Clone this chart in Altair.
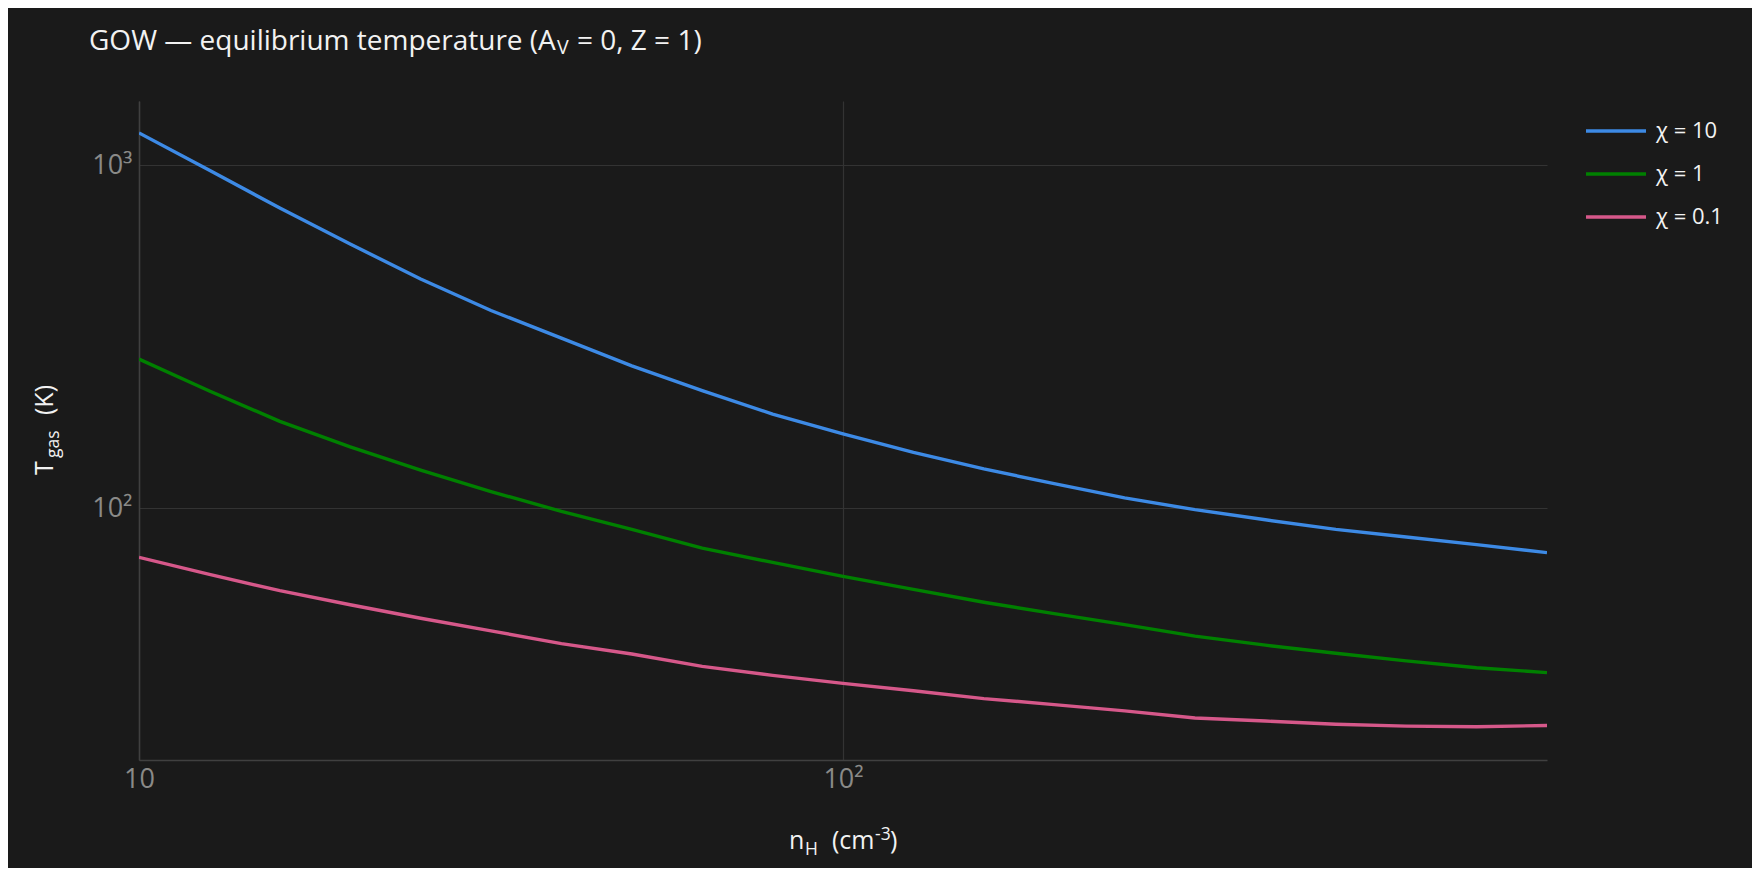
import altair as alt
import pandas as pd

# hydrogen density grid (cm^-3), 10 steps per decade
n_h = [10.0, 12.59, 15.85, 19.95, 25.12, 31.62, 39.81, 50.12, 63.10, 79.43,
       100.0, 125.9, 158.5, 199.5, 251.2, 316.2, 398.1, 501.2, 631.0, 794.3, 1000.0]

# equilibrium gas temperature (K)
t_chi10 = [1243, 967, 750, 589, 466, 377, 313, 260, 220, 188, 164.5,
           145.3, 130, 117.8, 107, 98.9, 92.4, 86.6, 82.3, 78.2, 74.1]
t_chi1 = [272, 219.5, 179, 150.7, 129, 111.7, 97.8, 86.6, 76.4, 69.4, 63.2,
          57.9, 53.1, 49.2, 45.7, 42.3, 39.8, 37.7, 35.8, 34.2, 33.1]
t_chi01 = [71.8, 64.0, 57.4, 52.2, 47.7, 43.8, 40.2, 37.5, 34.5, 32.5, 30.8,
           29.3, 27.8, 26.7, 25.6, 24.4, 23.9, 23.4, 23.1, 23.0, 23.2]

series_names = ["χ = 10", "χ = 1", "χ = 0.1"]
series_colors = ["#3d8ae5", "#008000", "#d6588a"]

BG = "#1a1a1a"
FG = "#f2f2f2"
FONT = "Open Sans"

frames = []
for name, temps in zip(series_names, [t_chi10, t_chi1, t_chi01]):
    frames.append(pd.DataFrame({"nH": n_h, "T": temps, "chi": name}))
df = pd.concat(frames, ignore_index=True)

lines = (
    alt.Chart(df)
    .mark_line(strokeWidth=3.4, clip=True)
    .encode(
        x=alt.X(
            "nH:Q",
            scale=alt.Scale(type="log", domain=[10, 1000], nice=False),
            axis=alt.Axis(
                values=[10, 100],
                labelExpr="datum.value == 10 ? '10' : '10²'",
                title=None,
                labelPadding=6,
                labelFlush=False,
            ),
        ),
        y=alt.Y(
            "T:Q",
            scale=alt.Scale(type="log", domain=[18.4, 1540], nice=False),
            axis=alt.Axis(
                values=[100, 1000],
                labelExpr="datum.value == 1000 ? '10³' : '10²'",
                title=None,
                labelPadding=7,
            ),
        ),
        color=alt.Color(
            "chi:N",
            scale=alt.Scale(domain=series_names, range=series_colors),
            sort=series_names,
            legend=alt.Legend(
                orient="none",
                legendX=1445,
                legendY=-2,
                title=None,
                symbolType="stroke",
                symbolSize=3600,
                symbolStrokeWidth=3.4,
                labelFontSize=22,
                labelColor=FG,
                labelFont=FONT,
                labelOffset=8,
                rowPadding=-9,
                padding=0,
            ),
        ),
        detail="chi:N",
    )
)


def label(txt, x, y, size, angle=0, color=FG):
    # single piece of text placed in pixel space (for sub/superscripts)
    return (
        alt.Chart(pd.DataFrame({"t": [txt]}))
        .mark_text(
            align="left",
            baseline="alphabetic",
            font=FONT,
            fontSize=size,
            color=color,
            angle=angle,
        )
        .encode(x=alt.value(x), y=alt.value(y), text="t:N")
    )


# title: GOW — equilibrium temperature (A_V = 0, Z = 1)
title_parts = [
    label("GOW — equilibrium temperature (A", -50, -51, 28),
    label("V", 418, -47, 19.6),
    label("= 0, Z = 1)", 438, -51, 28),
]

# x title: n_H  (cm^-3)
xtitle_parts = [
    label("n", 650, 748, 25),
    label("H", 666, 754, 17.5),
    label("(cm", 693, 748, 25),
    label("-3", 736, 739, 17.5),
    label(")", 751, 748, 25),
]

# y title: T_gas  (K), rotated
ytitle_parts = [
    label("T", -86, 374, 25, angle=270),
    label("gas", -80, 357, 17.5, angle=270),
    label("(K)", -86, 314, 25, angle=270),
]

chart = (
    alt.layer(lines, *title_parts, *xtitle_parts, *ytitle_parts)
    .properties(
        width=1408,
        height=659,
        autosize=alt.AutoSizeParams(type="none"),
        padding={"left": 131, "top": 93, "right": 205, "bottom": 108},
        background=BG,
    )
    .configure(font=FONT)
    .configure_view(strokeWidth=0, fill=BG)
    .configure_axis(
        grid=True,
        gridColor="#333333",
        gridWidth=1.2,
        domainColor="#404040",
        domainWidth=1.5,
        ticks=False,
        labelColor="#8a8a88",
        labelFont=FONT,
        labelFontSize=27,
    )
)

chart.save("out.html", embed_options={"renderer": "svg", "actions": False})
